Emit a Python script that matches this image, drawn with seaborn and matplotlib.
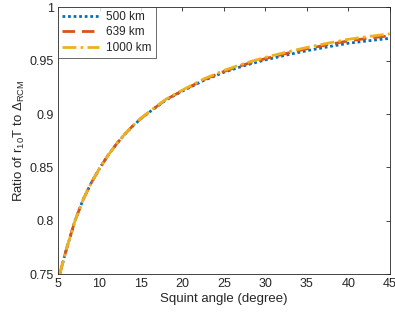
import numpy as np
import pandas as pd
import matplotlib
matplotlib.use("Agg")
import matplotlib.pyplot as plt
import seaborn as sns

sns.set_theme(style="white")
plt.rcParams['font.family'] = ['Liberation Sans', 'DejaVu Sans']
plt.rcParams['mathtext.fontset'] = 'custom'
plt.rcParams['mathtext.rm'] = 'Liberation Sans'
plt.rcParams['mathtext.it'] = 'Liberation Sans'

angles = [5.2, 6, 7, 8, 9, 10, 11, 12, 13, 14, 15, 16, 18, 20, 22.5, 25, 27.5,
          30, 32.5, 35, 37.5, 40, 42.5, 45]
ratio_500 = [0.750, 0.773, 0.799, 0.8195, 0.8355, 0.849, 0.861, 0.8715, 0.8807,
             0.8887, 0.8958, 0.9018, 0.9132, 0.9216, 0.9313, 0.9392, 0.9455,
             0.9508, 0.9553, 0.9594, 0.9630, 0.9664, 0.9688, 0.9710]
ratio_639 = [0.750, 0.773, 0.799, 0.8195, 0.8355, 0.849, 0.861, 0.8715, 0.8808,
             0.8889, 0.896, 0.902, 0.9135, 0.922, 0.932, 0.940, 0.9465,
             0.952, 0.9568, 0.9612, 0.9650, 0.9686, 0.9712, 0.9734]
ratio_1000 = [0.750, 0.773, 0.799, 0.8195, 0.8355, 0.849, 0.861, 0.8716, 0.8809,
              0.8891, 0.8962, 0.9023, 0.9139, 0.9225, 0.9327, 0.9409, 0.9476,
              0.9532, 0.9580, 0.9625, 0.9664, 0.9701, 0.9728, 0.9752]
labels = ["500 km", "639 km", "1000 km"]

df = pd.DataFrame({
    "angle": angles * 3,
    "ratio": ratio_500 + ratio_639 + ratio_1000,
    "series": [labels[0]] * len(angles) + [labels[1]] * len(angles) + [labels[2]] * len(angles),
})

colors = {"500 km": "#0072BD", "639 km": "#D95319", "1000 km": "#EDB120"}
styles = {"500 km": (0, (1, 1)), "639 km": (0, (4.5, 2.5)), "1000 km": (0, (5, 1.5, 1, 1.5))}

fig = plt.figure(figsize=(3.95, 3.22), dpi=100)
ax = fig.add_axes([0.147, 0.149, 0.840, 0.828])

for lab in labels:
    sub = df[df["series"] == lab]
    sns.lineplot(data=sub, x="angle", y="ratio", ax=ax, color=colors[lab],
                 linestyle=styles[lab], linewidth=2.0, label=lab, sort=True)

ax.set_xlim(5, 45)
ax.set_ylim(0.75, 1.0)
ax.set_xticks([5, 10, 15, 20, 25, 30, 35, 40, 45])
ax.set_yticks([0.75, 0.8, 0.85, 0.9, 0.95, 1.0])
ax.set_yticklabels(["0.75", "0.8", "0.85", "0.9", "0.95", "1"])
ax.tick_params(direction="in", length=3, width=0.6, top=True, right=True,
               labelsize=9, colors="#262626", pad=3)
for s in ax.spines.values():
    s.set_color("#262626")
    s.set_linewidth(0.6)
ax.set_xlabel("Squint angle (degree)", fontsize=9.5, color="#262626", labelpad=2)
ax.set_ylabel(r"Ratio of r$_{10}$T to $\Delta_{\mathrm{RCM}}$", fontsize=9.5,
              color="#262626", labelpad=2)
leg = ax.legend(loc="upper left", fontsize=8.5, frameon=True, fancybox=False,
                borderaxespad=0.0, handlelength=3.2, labelspacing=0.3,
                borderpad=0.3, handletextpad=0.6)
leg.get_frame().set_edgecolor("#262626")
leg.get_frame().set_linewidth(0.6)
for t in leg.get_texts():
    t.set_color("#262626")

fig.savefig("out.png", dpi=100)
